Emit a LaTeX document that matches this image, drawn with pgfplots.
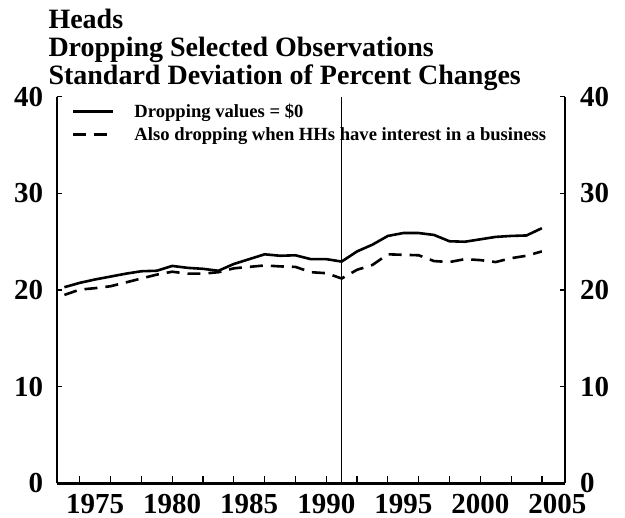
\documentclass[border=0pt]{standalone}
\usepackage{fontspec}
\setmainfont{Liberation Serif}
\usepackage{pgfplots}
\pgfplotsset{compat=1.18}

\pgfplotsset{
  common/.style={
    width=508.3pt, height=386.8pt, scale only axis,
    xmin=1972.5, xmax=2005.5, ymin=0, ymax=40,
    ytick={0,10,20,30,40},
    tick align=inside,
    major tick length=5pt,
    axis line style={line width=2.2pt},
    every tick/.style={black, line width=1.2pt},
    /pgf/number format/assume math mode=true,
    ticklabel style={font=\fontsize{29}{32}\selectfont\bfseries, inner sep=0pt},
    clip=false,
  },
}

\begin{document}
\begin{tikzpicture}
\path[use as bounding box] (-56.7pt,-34.5pt) rectangle (568.3pt,483.5pt);

\begin{axis}[common,
  axis x line*=bottom, axis y line*=left,
  xtick={1975,1980,...,2005},
  /pgf/number format/1000 sep={},
  major x tick style={draw=none},
  minor xtick={1974,1976,...,2004},
  minor tick length=7pt,
  xticklabel shift=11pt,
  yticklabel shift=13.4pt,
  legend style={draw=none, fill=none, at={(rel axis cs:0,1)}, anchor=north west,
    xshift=15pt, yshift=-7pt, inner sep=0pt,
    font=\fontsize{18.6}{20}\selectfont\bfseries,
    nodes={inner sep=0pt}, column sep=20pt, row sep=8.5pt},
  legend cell align=left,
  legend image code/.code={\draw[#1] (0pt,0pt) -- (40pt,0pt);},
]
\addplot[black, line width=2.6pt] coordinates {
(1973,20.3) (1974,20.75) (1975,21.1) (1976,21.4) (1977,21.7) (1978,21.95)
(1979,22.0) (1980,22.5) (1981,22.3) (1982,22.2) (1983,22.0) (1984,22.7)
(1985,23.2) (1986,23.7) (1987,23.55) (1988,23.6) (1989,23.2) (1990,23.2)
(1991,22.95) (1992,24.0) (1993,24.7) (1994,25.6) (1995,25.9) (1996,25.9)
(1997,25.7) (1998,25.05) (1999,25.0) (2000,25.25) (2001,25.5) (2002,25.6)
(2003,25.65) (2004,26.4)};
\addlegendentry{Dropping values = \$0}
\addplot[black, line width=2.6pt, dash pattern=on 13pt off 8pt] coordinates {
(1973,19.5) (1974,20.05) (1975,20.2) (1976,20.4) (1977,20.8) (1978,21.2)
(1979,21.6) (1980,21.9) (1981,21.7) (1982,21.7) (1983,21.85) (1984,22.25)
(1985,22.4) (1986,22.55) (1987,22.45) (1988,22.4) (1989,21.85) (1990,21.75)
(1991,21.2) (1992,22.1) (1993,22.6) (1994,23.7) (1995,23.65) (1996,23.6)
(1997,23.0) (1998,22.9) (1999,23.2) (2000,23.1) (2001,22.9) (2002,23.3)
(2003,23.55) (2004,24.0)};
\addlegendentry{Also dropping when HHs have interest in a business}
% break marker at 1991
\addplot[black, line width=1.5pt, forget plot] coordinates {(1991,0) (1991,40)};
\end{axis}

\begin{axis}[common,
  axis x line=none, axis y line*=right,
  yticklabel shift=15pt,
]
\end{axis}

\node[anchor=base west, font=\fontsize{28}{30}\selectfont\bfseries] at (-11.7pt,454.5pt) {Heads};
\node[anchor=base west, font=\fontsize{28}{30}\selectfont\bfseries] at (-11.7pt,426.5pt) {Dropping Selected Observations};
\node[anchor=base west, font=\fontsize{28}{30}\selectfont\bfseries] at (-11.7pt,398.5pt) {Standard Deviation of Percent Changes};
\end{tikzpicture}
\end{document}
